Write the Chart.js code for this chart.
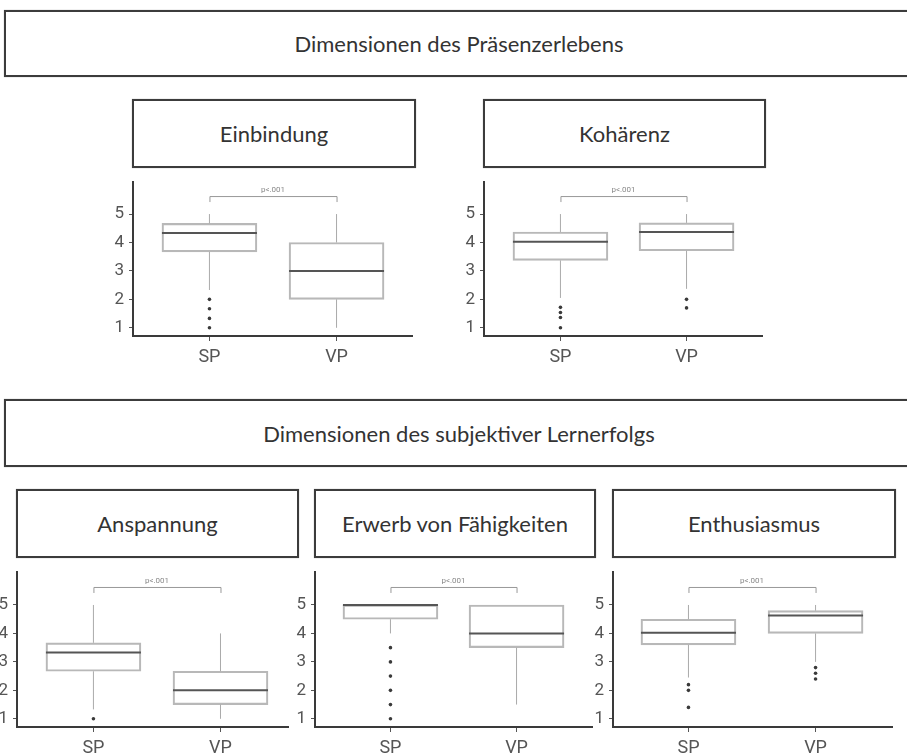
<!DOCTYPE html>
<html>
<head>
<meta charset="utf-8">
<script src="https://cdn.jsdelivr.net/npm/chart.js@4.4.1/dist/chart.umd.min.js"></script>
<style>
  html, body { margin: 0; padding: 0; background: #fff; }
  body { width: 907px; height: 756px; overflow: hidden; position: relative; }
  .box {
    position: absolute; box-sizing: border-box; border: 2px solid #3c3c3c;
    display: flex; align-items: center; justify-content: center;
    font-family: Lato, "Open Sans", sans-serif; color: #333; background: #fff;
    box-shadow: 0 0 1px rgba(0,0,0,0.35);
  }
  .section { font-size: 22px; }
  .panel-head { font-size: 22px; }
  canvas { position: absolute; }
</style>
</head>
<body>
<div id="s1" class="box section" style="left:4px; top:10px; width:910px; height:67px;"></div>
<div id="s2" class="box section" style="left:4px; top:399px; width:910px; height:68px;"></div>

<div id="h0" class="box panel-head" style="left:132px; top:99px; width:284px; height:69px;"></div>
<div id="h1" class="box panel-head" style="left:483px; top:99px; width:283px; height:69px;"></div>
<div id="h2" class="box panel-head" style="left:16px; top:489px; width:283px; height:69px;"></div>
<div id="h3" class="box panel-head" style="left:314px; top:489px; width:282px; height:69px;"></div>
<div id="h4" class="box panel-head" style="left:612px; top:489px; width:284px; height:69px;"></div>

<canvas id="c0"></canvas>
<canvas id="c1"></canvas>
<canvas id="c2"></canvas>
<canvas id="c3"></canvas>
<canvas id="c4"></canvas>

<script>
// ---- data ----
const categories = ['SP', 'VP'];
const yTicks = [1, 2, 3, 4, 5];
const pLabel = 'p<.001';
const sectionTitles = ['Dimensionen des Präsenzerlebens', 'Dimensionen des subjektiver Lernerfolgs'];
const panelTitles = ['Einbindung', 'Kohärenz', 'Anspannung', 'Erwerb von Fähigkeiten', 'Enthusiasmus'];

// five-number summaries per group: [whisker low, Q1, median, Q3, whisker high]
const einbindungBox   = [[2.33, 3.67, 4.33, 4.67, 5], [1, 2, 3, 4, 5]];
const kohaerenzBox    = [[2.05, 3.37, 4.03, 4.37, 5], [2.37, 3.71, 4.37, 4.69, 5]];
const anspannungBox   = [[1.33, 2.67, 3.33, 3.67, 5], [1, 1.5, 2, 2.67, 4]];
const erwerbBox       = [[4, 4.5, 5, 5, 5], [1.5, 3.5, 4, 5, 5]];
const enthusiasmusBox = [[2.45, 3.6, 4.02, 4.5, 5], [3.0, 4.0, 4.63, 4.8, 5]];

// outliers per group [SP, VP]
const einbindungOut   = [[2.0, 1.67, 1.33, 1.0], []];
const kohaerenzOut    = [[1.72, 1.54, 1.36, 1.0], [2.0, 1.7]];
const anspannungOut   = [[1.0], []];
const erwerbOut       = [[3.5, 3.0, 2.5, 2.0, 1.5, 1.0], []];
const enthusiasmusOut = [[2.2, 2.0, 1.4], [2.8, 2.6, 2.4]];

const panelBoxes = [einbindungBox, kohaerenzBox, anspannungBox, erwerbBox, enthusiasmusBox];
const panelOutliers = [einbindungOut, kohaerenzOut, anspannungOut, erwerbOut, enthusiasmusOut];

// ---- layout (pixel frame of each plot) ----
const frames = [
  { axisX: 133, right: 414, top: 167, bottom: 336, y1: 327, y5: 202, xSP: 210, xVP: 338 },
  { axisX: 484, right: 764, top: 167, bottom: 336, y1: 327, y5: 202, xSP: 561, xVP: 688 },
  { axisX: 17,  right: 290, top: 557, bottom: 727, y1: 718, y5: 593, xSP: 94,  xVP: 222 },
  { axisX: 315, right: 594, top: 557, bottom: 727, y1: 718, y5: 593, xSP: 391, xVP: 518 },
  { axisX: 613, right: 894, top: 557, bottom: 727, y1: 718, y5: 593, xSP: 689, xVP: 817 }
];
const LEFT_W = 40, BOTTOM_H = 40, PAD_R = 2;

document.getElementById('s1').textContent = sectionTitles[0];
document.getElementById('s2').textContent = sectionTitles[1];
panelTitles.forEach((t, i) => { document.getElementById('h' + i).textContent = t; });

const tickFont = "Roboto, 'Liberation Sans', sans-serif";

// whiskers, medians and the significance bracket
const boxExtras = {
  id: 'boxExtras',
  afterDatasetsDraw(chart, args, opts) {
    const { ctx, scales: { x, y } } = chart;
    const stats = opts.stats;
    const half = opts.boxWidth / 2;
    ctx.save();
    stats.forEach((s, i) => {
      const cx = x.getPixelForValue(i + 1);
      const [lo, q1, med, q3, hi] = s;
      ctx.strokeStyle = '#aaaaaa';
      ctx.lineWidth = 1;
      ctx.beginPath();
      ctx.moveTo(cx, y.getPixelForValue(q3)); ctx.lineTo(cx, y.getPixelForValue(hi));
      ctx.moveTo(cx, y.getPixelForValue(q1)); ctx.lineTo(cx, y.getPixelForValue(lo));
      ctx.stroke();
      ctx.strokeStyle = '#555555';
      ctx.lineWidth = 2;
      ctx.beginPath();
      const my = y.getPixelForValue(med);
      ctx.moveTo(cx - half, my); ctx.lineTo(cx + half, my);
      ctx.stroke();
    });
    // bracket
    const xa = x.getPixelForValue(1), xb = x.getPixelForValue(2);
    const by = y.getPixelForValue(5) - opts.bracketGap;
    ctx.strokeStyle = '#999999';
    ctx.lineWidth = 1;
    ctx.beginPath();
    ctx.moveTo(xa + 0.5, by + 6); ctx.lineTo(xa + 0.5, by + 0.5);
    ctx.lineTo(xb + 0.5, by + 0.5); ctx.lineTo(xb + 0.5, by + 6);
    ctx.stroke();
    ctx.fillStyle = '#888888';
    ctx.font = '8px ' + tickFont;
    ctx.textAlign = 'center';
    ctx.textBaseline = 'bottom';
    ctx.fillText(pLabel, (xa + xb) / 2, by - 2);
    ctx.restore();
  }
};

frames.forEach((f, i) => {
  const cv = document.getElementById('c' + i);
  const w = (f.right - f.axisX) + LEFT_W + PAD_R;
  const h = (f.bottom - f.top) + BOTTOM_H;
  cv.width = w; cv.height = h;
  cv.style.left = (f.axisX - LEFT_W) + 'px';
  cv.style.top = f.top + 'px';
  cv.style.width = w + 'px'; cv.style.height = h + 'px';

  const ppu = (f.y1 - f.y5) / 4;
  const yMin = 1 - (f.bottom - f.y1) / ppu;
  const yMax = 5 + (f.y5 - f.top) / ppu;
  const ppx = f.xVP - f.xSP;
  const xMin = 1 - (f.xSP - f.axisX) / ppx;
  const xMax = 2 + (f.right - f.xVP) / ppx;

  const stats = panelBoxes[i];
  const outs = panelOutliers[i];
  const boxData = stats.map((s, k) => ({ x: k + 1, y: [s[1], s[3]] }));
  const outData = [];
  outs.forEach((arr, k) => arr.forEach(v => outData.push({ x: k + 1, y: v })));

  new Chart(cv, {
    type: 'bar',
    data: {
      datasets: [
        {
          type: 'bar',
          data: boxData,
          backgroundColor: 'rgba(255,255,255,0)',
          borderColor: '#b8b8b8',
          borderWidth: 1.5,
          borderSkipped: false,
          barThickness: 95
        },
        {
          type: 'scatter',
          data: outData,
          pointRadius: 1.8,
          pointBackgroundColor: '#3a3a3a',
          pointBorderWidth: 0,
          showLine: false
        }
      ]
    },
    options: {
      responsive: false,
      animation: false,
      devicePixelRatio: 1,
      layout: { padding: { left: 0, top: 0, right: PAD_R, bottom: 0 } },
      plugins: {
        legend: { display: false },
        tooltip: { enabled: false },
        boxExtras: { stats: stats, boxWidth: 95, bracketGap: 18 }
      },
      scales: {
        x: {
          type: 'linear',
          min: xMin, max: xMax,
          offset: false,
          afterBuildTicks: s => { s.ticks = categories.map((c, k) => ({ value: k + 1 })); },
          afterFit: s => { s.height = BOTTOM_H; },
          grid: { display: true, drawOnChartArea: false, drawTicks: true, tickLength: 5, color: '#555', lineWidth: 1, offset: false },
          border: { display: true, color: '#3a3a3a', width: 2 },
          ticks: {
            callback: v => categories[v - 1],
            font: { family: tickFont, size: 18 },
            color: '#555',
            padding: 6,
            maxRotation: 0, autoSkip: false
          }
        },
        y: {
          type: 'linear',
          min: yMin, max: yMax,
          afterBuildTicks: s => { s.ticks = yTicks.map(v => ({ value: v })); },
          afterFit: s => { s.width = LEFT_W; },
          grid: { display: true, drawOnChartArea: false, drawTicks: true, tickLength: 4, color: '#555', lineWidth: 1 },
          border: { display: true, color: '#3a3a3a', width: 2 },
          ticks: {
            font: { family: tickFont, size: 17 },
            color: '#555',
            padding: 5
          }
        }
      }
    },
    plugins: [boxExtras]
  });
});
</script>
</body>
</html>
